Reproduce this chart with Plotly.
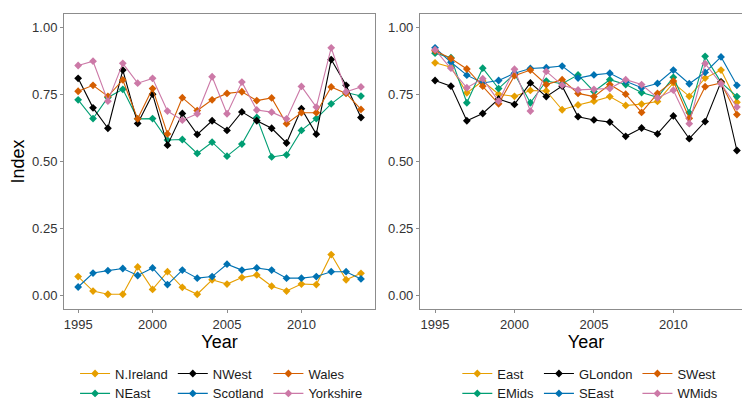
import plotly.graph_objects as go

years = list(range(1995, 2015))

# Left panel series
n_ireland = [0.071, 0.017, 0.005, 0.005, 0.107, 0.023, 0.089, 0.031, 0.005, 0.059,
             0.043, 0.067, 0.077, 0.035, 0.017, 0.043, 0.041, 0.153, 0.059, 0.083]
n_east = [0.730, 0.660, 0.739, 0.769, 0.659, 0.660, 0.580, 0.582, 0.530, 0.572,
          0.520, 0.565, 0.664, 0.517, 0.525, 0.616, 0.660, 0.715, 0.757, 0.744]
n_west = [0.810, 0.700, 0.624, 0.841, 0.642, 0.751, 0.561, 0.679, 0.601, 0.652,
          0.616, 0.685, 0.652, 0.624, 0.569, 0.697, 0.602, 0.880, 0.784, 0.664]
scotland = [0.032, 0.084, 0.093, 0.101, 0.075, 0.103, 0.041, 0.095, 0.065, 0.071,
            0.117, 0.095, 0.103, 0.095, 0.065, 0.065, 0.071, 0.089, 0.089, 0.062]
wales = [0.762, 0.784, 0.743, 0.804, 0.659, 0.772, 0.603, 0.738, 0.690, 0.730,
         0.754, 0.760, 0.727, 0.737, 0.641, 0.682, 0.682, 0.778, 0.754, 0.694]
yorkshire = [0.858, 0.874, 0.725, 0.866, 0.792, 0.810, 0.688, 0.654, 0.678, 0.816,
             0.678, 0.796, 0.692, 0.684, 0.659, 0.780, 0.703, 0.924, 0.760, 0.778]

# Right panel series
east = [0.868, 0.852, 0.756, 0.800, 0.751, 0.743, 0.765, 0.763, 0.693, 0.711,
        0.725, 0.742, 0.709, 0.714, 0.724, 0.793, 0.743, 0.811, 0.841, 0.721]
emids = [0.904, 0.887, 0.719, 0.848, 0.772, 0.827, 0.719, 0.800, 0.790, 0.823,
         0.761, 0.805, 0.787, 0.757, 0.739, 0.814, 0.682, 0.892, 0.795, 0.742]
glondon = [0.802, 0.781, 0.652, 0.679, 0.733, 0.713, 0.793, 0.742, 0.781, 0.667,
           0.655, 0.647, 0.594, 0.625, 0.603, 0.670, 0.585, 0.649, 0.797, 0.541]
seast = [0.924, 0.870, 0.822, 0.793, 0.802, 0.829, 0.847, 0.850, 0.856, 0.811,
         0.823, 0.829, 0.799, 0.775, 0.791, 0.841, 0.790, 0.832, 0.890, 0.784]
swest = [0.913, 0.884, 0.845, 0.781, 0.715, 0.820, 0.841, 0.787, 0.805, 0.754,
         0.742, 0.787, 0.751, 0.683, 0.754, 0.800, 0.661, 0.779, 0.793, 0.675]
wmids = [0.917, 0.848, 0.775, 0.809, 0.725, 0.844, 0.688, 0.836, 0.785, 0.767,
         0.769, 0.772, 0.805, 0.787, 0.737, 0.766, 0.641, 0.865, 0.790, 0.703]

x_ticks = [1995, 2000, 2005, 2010]
y_ticks = [0.0, 0.25, 0.5, 0.75, 1.0]
y_ticktext = ["0.00", "0.25", "0.50", "0.75", "1.00"]

COL_Y = "#E69F00"
COL_G = "#009E73"
COL_K = "#000000"
COL_B = "#0072B2"
COL_R = "#D55E00"
COL_P = "#CC79A7"

FONT = "Liberation Sans, Arial, sans-serif"

left_series = [
    ("N.Ireland", n_ireland, COL_Y, "g1"),
    ("NEast", n_east, COL_G, "g1"),
    ("NWest", n_west, COL_K, "g2"),
    ("Scotland", scotland, COL_B, "g2"),
    ("Wales", wales, COL_R, "g3"),
    ("Yorkshire", yorkshire, COL_P, "g3"),
]
right_series = [
    ("East", east, COL_Y, "h1"),
    ("EMids", emids, COL_G, "h1"),
    ("GLondon", glondon, COL_K, "h2"),
    ("SEast", seast, COL_B, "h2"),
    ("SWest", swest, COL_R, "h3"),
    ("WMids", wmids, COL_P, "h3"),
]

fig = go.Figure()

for name, vals, col, grp in left_series:
    fig.add_trace(go.Scatter(
        x=years, y=vals, name=name, mode="lines+markers",
        line=dict(color=col, width=1.1),
        marker=dict(symbol="diamond", size=6, color=col),
        xaxis="x", yaxis="y", legend="legend", legendgroup=grp,
    ))
for name, vals, col, grp in right_series:
    fig.add_trace(go.Scatter(
        x=years, y=vals, name=name, mode="lines+markers",
        line=dict(color=col, width=1.1),
        marker=dict(symbol="diamond", size=6, color=col),
        xaxis="x2", yaxis="y2", legend="legend2", legendgroup=grp,
    ))

axis_common = dict(
    showline=True, mirror=True, linecolor="#8c8c8c", linewidth=1,
    ticks="outside", ticklen=3, tickcolor="#8c8c8c", tickwidth=1,
    showgrid=False, zeroline=False,
    tickfont=dict(family=FONT, size=13, color="#333333"),
)
xr = [1994.05, 2014.95]
yr = [-0.05, 1.05]

fig.update_layout(
    width=750, height=405,
    margin=dict(l=54, r=6, t=5, b=97),
    paper_bgcolor="white", plot_bgcolor="white",
    font=dict(family=FONT, size=13, color="#1a1a1a"),
    xaxis=dict(domain=[0, 0.4522], range=xr, tickvals=x_ticks,
               title=dict(text="Year", font=dict(family=FONT, size=18, color="#000000"), standoff=4),
               anchor="y", **axis_common),
    yaxis=dict(domain=[0, 1], range=yr, tickvals=y_ticks, ticktext=y_ticktext,
               title=dict(text="Index", font=dict(family=FONT, size=18, color="#000000"), standoff=6),
               anchor="x", **axis_common),
    xaxis2=dict(domain=[0.5174, 1], range=xr, tickvals=x_ticks,
                title=dict(text="Year", font=dict(family=FONT, size=18, color="#000000"), standoff=4),
                anchor="y2", **axis_common),
    yaxis2=dict(domain=[0, 1], range=yr, tickvals=y_ticks, ticktext=y_ticktext,
                anchor="x2", **axis_common),
    legend=dict(orientation="h", traceorder="grouped", x=0.229, xanchor="center",
                y=-0.168, yanchor="top", tracegroupgap=0,
                font=dict(family=FONT, size=13, color="#1a1a1a"),
                itemwidth=30, bgcolor="rgba(0,0,0,0)"),
    legend2=dict(orientation="h", traceorder="grouped", x=0.765, xanchor="center",
                 y=-0.168, yanchor="top", tracegroupgap=0,
                 font=dict(family=FONT, size=13, color="#1a1a1a"),
                 itemwidth=30, bgcolor="rgba(0,0,0,0)"),
)

fig.write_html("out.html")
